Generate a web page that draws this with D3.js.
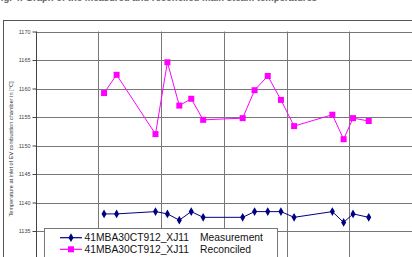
<!DOCTYPE html>
<html><head><meta charset="utf-8">
<script src="https://cdn.jsdelivr.net/npm/d3@7"></script>
<style>html,body{margin:0;padding:0;background:#fff;overflow:hidden}svg{display:block;font-family:"Liberation Sans",Arial,sans-serif}</style>
</head><body>
<svg id="c" width="412" height="257"></svg>
<script>
const xValues = [5.45, 6.45, 9.55, 10.5, 11.45, 12.4, 13.35, 16.5, 17.45, 18.5, 19.55, 20.6, 23.65, 24.55, 25.3, 26.55];
const measurement = [1138.0, 1138.0, 1138.4, 1138.0, 1136.9, 1138.4, 1137.4, 1137.4, 1138.4, 1138.4, 1138.4, 1137.4, 1138.4, 1136.5, 1138.0, 1137.4];
const reconciled = [1159.2, 1162.4, 1152.0, 1164.6, 1157.0, 1158.2, 1154.5, 1154.8, 1159.7, 1162.2, 1158.0, 1153.4, 1155.4, 1151.1, 1154.8, 1154.3];
const yTicks = [1135, 1140, 1145, 1150, 1155, 1160, 1165, 1170];
const xGrid = [5, 10, 15, 20, 25, 30];
const seriesNames = ["41MBA30CT912_XJ11", "41MBA30CT912_XJ11"];
const seriesTypes = ["Measurement", "Reconciled"];
const titleText = "Fig. 4: Graph of the measured and reconciled main steam temperatures";
const yTitle = "Temperature at inlet of EV combustion chamber in [°C]";

const svg = d3.select("#c");
const x = d3.scaleLinear().domain([0, 30]).range([35.7, 412]);
const y = d3.scaleLinear().domain([1130, 1170]).range([259.5, 31.5]);

// title (cut off at the top, as in the reference)
svg.append("text").attr("x", -5).attr("y", 1).attr("font-size", 9.5).attr("font-weight", "bold")
  .attr("fill", "#666").text(titleText);

// outer frame
svg.append("rect").attr("x", 3.5).attr("y", 20.5).attr("width", 420).attr("height", 260)
  .attr("fill", "none").attr("stroke", "#555").attr("stroke-width", 1);

// grid
svg.append("g").selectAll("line").data(yTicks).join("line")
  .attr("x1", x(0)).attr("x2", 420).attr("y1", d => Math.round(y(d)) + 0.5).attr("y2", d => Math.round(y(d)) + 0.5)
  .attr("stroke", "#777").attr("stroke-width", 1);
svg.append("g").selectAll("line").data(xGrid).join("line")
  .attr("x1", d => Math.round(x(d)) + 0.5).attr("x2", d => Math.round(x(d)) + 0.5)
  .attr("y1", y(1170)).attr("y2", 260)
  .attr("stroke", "#777").attr("stroke-width", 1);

// y axis
const ax = svg.append("g").attr("transform", `translate(${Math.round(x(0)) + 0.5},0)`)
  .call(d3.axisLeft(y).tickValues(yTicks).tickSize(4).tickPadding(2).tickFormat(d3.format("d")));
ax.select(".domain").attr("stroke", "#444").attr("d", `M0,${y(1170)}V260`);
ax.selectAll(".tick line").attr("stroke", "#444");
ax.selectAll(".tick text").attr("font-size", 5.5).attr("fill", "#444")
  .attr("font-family", "'Liberation Sans',Arial,sans-serif");

// y title
svg.append("text").attr("transform", "translate(13,149) rotate(-90)").attr("text-anchor", "middle")
  .attr("font-size", 5.6).attr("fill", "#333").text(yTitle);

const line = d3.line().x((d, i) => x(xValues[i])).y(d => y(d));

// reconciled
svg.append("path").datum(reconciled).attr("d", line).attr("fill", "none").attr("stroke", "#ff00ff").attr("stroke-width", 1);
svg.append("g").selectAll("rect").data(reconciled).join("rect")
  .attr("x", (d, i) => x(xValues[i]) - 3).attr("y", d => y(d) - 3).attr("width", 6).attr("height", 6).attr("fill", "#ff00ff");

// measurement
const diamond = d3.symbol().type(d3.symbolDiamond).size(22);
svg.append("path").datum(measurement).attr("d", line).attr("fill", "none").attr("stroke", "#000080").attr("stroke-width", 1);
svg.append("g").selectAll("path").data(measurement).join("path")
  .attr("transform", (d, i) => `translate(${x(xValues[i])},${y(d)})`).attr("d", diamond).attr("fill", "#000080");

// legend
const lg = svg.append("g");
lg.append("rect").attr("x", 44.5).attr("y", 228.5).attr("width", 233).attr("height", 40)
  .attr("fill", "#fff").attr("stroke", "#777").attr("stroke-width", 1);
const rows = [{c: "#000080", m: "d", yy: 237.7}, {c: "#ff00ff", m: "s", yy: 249.3}];
rows.forEach((r, i) => {
  lg.append("line").attr("x1", 60).attr("x2", 82).attr("y1", r.yy).attr("y2", r.yy).attr("stroke", r.c).attr("stroke-width", 1.2);
  if (r.m === "d") lg.append("path").attr("transform", `translate(71,${r.yy})`).attr("d", diamond).attr("fill", r.c);
  else lg.append("rect").attr("x", 68).attr("y", r.yy - 3).attr("width", 6).attr("height", 6).attr("fill", r.c);
  lg.append("text").attr("x", 84.5).attr("y", r.yy + 3.7).attr("font-size", 10.3).attr("fill", "#111").text(seriesNames[i]);
  lg.append("text").attr("x", 200).attr("y", r.yy + 3.7).attr("font-size", 10.3).attr("fill", "#111").text(seriesTypes[i]);
});
</script>
</body></html>
